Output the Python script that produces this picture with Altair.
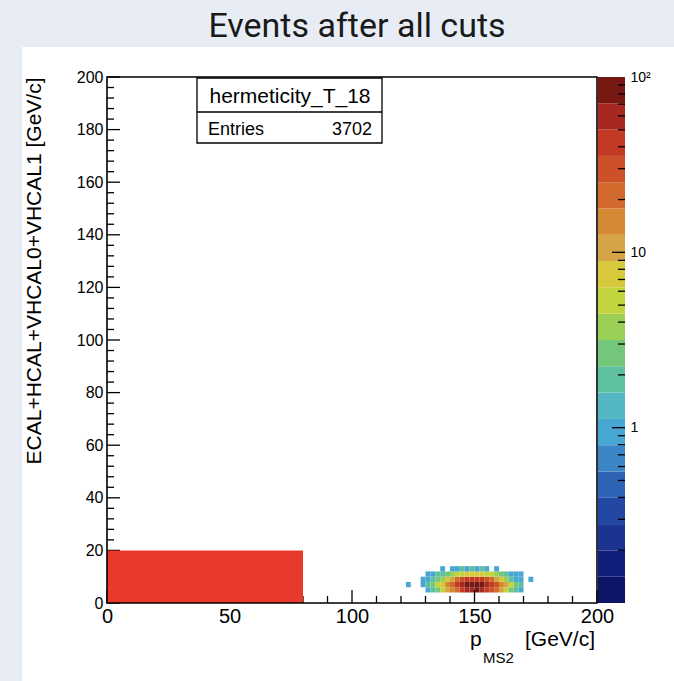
import math
import altair as alt
import pandas as pd

# ---------------- data ----------------
TITLE = "Events after all cuts"
Y_TITLE = "ECAL+HCAL+VHCAL0+VHCAL1 [GeV/c]"
X_TITLE_MAIN = "p"
X_TITLE_SUB = "MS2"
X_TITLE_UNIT = "[GeV/c]"
STATS_NAME = "hermeticity_T_18"
STATS_LABEL = "Entries"
STATS_ENTRIES = "3702"

x_ticks_major = [0, 50, 100, 150, 200]
x_ticks_minor = [10, 20, 30, 40, 60, 70, 80, 90, 110, 120, 130, 140, 160, 170, 180, 190]
y_ticks_major = [0, 20, 40, 60, 80, 100, 120, 140, 160, 180, 200]
y_ticks_minor = [4, 8, 12, 16, 24, 28, 32, 36, 44, 48, 52, 56, 64, 68, 72, 76,
                 84, 88, 92, 96, 104, 108, 112, 116, 124, 128, 132, 136,
                 144, 148, 152, 156, 164, 168, 172, 176, 184, 188, 192, 196]
cbar_major = [1, 10, 100]
cbar_minor = [0.2, 0.3, 0.4, 0.5, 0.6, 0.7, 0.8, 0.9,
              2, 3, 4, 5, 6, 7, 8, 9,
              20, 30, 40, 50, 60, 70, 80, 90]

# cut box (x range, y range)
box_x = [0, 80]
box_y = [0, 20]

# 2D histogram: bin width 2 GeV/c, x bin lower edges 122..174
BIN = 2
x_bin_lo = [122, 124, 126, 128, 130, 132, 134, 136, 138, 140, 142, 144, 146, 148,
            150, 152, 154, 156, 158, 160, 162, 164, 166, 168, 170, 172, 174]
row_y12 = [0, 0, 0, 0, 0, 0, 0, 1, 0, 1, 1, 2, 1, 2, 1, 2, 1, 0, 1, 0, 0, 0, 0, 0, 0, 0, 0]
row_y10 = [0, 0, 0, 0, 1, 1, 2, 2, 3, 4, 5, 6, 7, 8, 8, 7, 6, 5, 4, 3, 2, 1, 1, 1, 0, 0, 0]
row_y8 = [0, 0, 0, 1, 1, 2, 3, 4, 7, 12, 20, 30, 40, 48, 50, 45, 35, 22, 12, 7, 4, 2, 1, 1, 0, 1, 0]
row_y6 = [1, 0, 0, 1, 2, 3, 5, 8, 14, 22, 36, 55, 75, 90, 95, 85, 65, 45, 28, 16, 9, 5, 3, 2, 0, 0, 0]
row_y4 = [0, 0, 0, 0, 1, 2, 3, 5, 9, 15, 25, 40, 55, 70, 75, 65, 50, 32, 20, 11, 6, 3, 2, 1, 0, 0, 0]
rows = {4: row_y4, 6: row_y6, 8: row_y8, 10: row_y10, 12: row_y12}

# ROOT-like rainbow palette, 20 contours, bottom -> top
palette = ["#0c1566", "#111f7b", "#1a3490", "#2348a3", "#2d62b5", "#3b84c6",
           "#48a6d3", "#53b6c2", "#5ec09f", "#74c67a", "#9ccf56", "#c2d43e",
           "#d7c93b", "#d5a545", "#d48832", "#d16a2c", "#cc5028", "#c23a24",
           "#a62820", "#751912"]
LOG_MIN, LOG_MAX = -1.0, 2.0

BOX_COLOR = "#e8392b"
BG = "#e8edf5"
FONT = "Liberation Sans"

# ---------------- tables ----------------
hist_recs = []
for y0, row in rows.items():
    for xl, n in zip(x_bin_lo, row):
        if n > 0:
            hist_recs.append(dict(x0=xl, x1=xl + BIN, y0=y0, y1=y0 + BIN, n=n, lc=math.log10(n)))
hist_df = pd.DataFrame(hist_recs)

box_df = pd.DataFrame({"x0": [box_x[0]], "x1": [box_x[1]], "y0": [box_y[0]], "y1": [box_y[1]]})

nb = len(palette)
step = (LOG_MAX - LOG_MIN) / nb
cbar_df = pd.DataFrame({
    "lo": [10 ** (LOG_MIN + i * step) for i in range(nb)],
    "hi": [10 ** (LOG_MIN + (i + 1) * step) for i in range(nb)],
    "lc": [LOG_MIN + (i + 0.5) * step for i in range(nb)],
})
cmaj_df = pd.DataFrame({"v": cbar_major[:2]})
cmin_df = pd.DataFrame({"v": cbar_minor})
one = pd.DataFrame({"k": [0]})

W, H = 490, 526
MAJ, MIN = 13, 7

xs = alt.Scale(domain=[0, 200], nice=False, zero=False)
ys = alt.Scale(domain=[0, 200], nice=False, zero=False)
cs = alt.Scale(type="quantize", domain=[LOG_MIN, LOG_MAX], range=palette, nice=False, zero=False)
logs = alt.Scale(type="log", domain=[0.1, 100], nice=False)

ax_x_lab = alt.Axis(orient="bottom", values=x_ticks_major, ticks=False, domain=False,
                    grid=False, labelFont=FONT, labelFontSize=20, labelColor="black",
                    labelPadding=3, labelFlush=False, labelOverlap=False, format="d",
                    title="")
ax_y_lab = alt.Axis(orient="left", values=y_ticks_major, ticks=False, domain=False,
                    grid=False, labelFont=FONT, labelFontSize=16, labelColor="black",
                    labelPadding=4, labelFlush=False, labelOverlap=False, format="d",
                    title=Y_TITLE, titleFont=FONT, titleFontSize=21,
                    titleFontWeight="normal", titleColor="black",
                    titleAnchor="end", titlePadding=32)
ax_cbar = alt.Axis(orient="right", values=cbar_major, offset=28, ticks=False,
                   domain=False, grid=False, labelFont=FONT, labelFontSize=14,
                   labelColor="black", labelPadding=5, labelFlush=False,
                   labelOverlap=False, format="~g",
                   labelExpr="datum.value >= 100 ? '10²' : datum.label",
                   title="")

# ---------------- layers ----------------
bg_top = alt.Chart(one).mark_rect(fill=BG).encode(
    x=alt.value(-107), x2=alt.value(567), y=alt.value(-77), y2=alt.value(-30))
bg_left = alt.Chart(one).mark_rect(fill=BG).encode(
    x=alt.value(-107), x2=alt.value(-85), y=alt.value(-30), y2=alt.value(604))

title = alt.Chart(pd.DataFrame({"t": [TITLE]})).mark_text(
    font="Roboto", fontSize=34, color="#1a1a1a", align="center", baseline="alphabetic"
).encode(x=alt.value(250), y=alt.value(-40), text="t:N")

heat = alt.Chart(hist_df).mark_rect().encode(
    x=alt.X("x0:Q", scale=xs, axis=None),
    x2="x1:Q",
    y=alt.Y("y0:Q", scale=ys, axis=None),
    y2="y1:Q",
    color=alt.Color("lc:Q", scale=cs, legend=None),
)

tick_style = dict(color="black", strokeWidth=1.3)
xmaj = alt.Chart(pd.DataFrame({"v": x_ticks_major})).mark_rule(**tick_style).encode(
    x=alt.X("v:Q", scale=xs, axis=ax_x_lab), y=alt.value(H - MAJ), y2=alt.value(H))
xmin = alt.Chart(pd.DataFrame({"v": x_ticks_minor})).mark_rule(**tick_style).encode(
    x=alt.X("v:Q", scale=xs, axis=None), y=alt.value(H - MIN), y2=alt.value(H))
ymaj = alt.Chart(pd.DataFrame({"v": y_ticks_major})).mark_rule(**tick_style).encode(
    y=alt.Y("v:Q", scale=ys, axis=ax_y_lab), x=alt.value(0), x2=alt.value(MAJ))
ymin = alt.Chart(pd.DataFrame({"v": y_ticks_minor})).mark_rule(**tick_style).encode(
    y=alt.Y("v:Q", scale=ys, axis=None), x=alt.value(0), x2=alt.value(MIN))

cutbox = alt.Chart(box_df).mark_rect(color=BOX_COLOR).encode(
    x=alt.X("x0:Q", scale=xs, axis=None),
    x2="x1:Q",
    y=alt.Y("y0:Q", scale=ys, axis=None),
    y2="y1:Q",
)

frame = alt.Chart(one).mark_rect(fill="transparent", stroke="black", strokeWidth=1.6).encode(
    x=alt.value(0), x2=alt.value(W), y=alt.value(0), y2=alt.value(H))

stats_rect = alt.Chart(one).mark_rect(fill="white", stroke="black", strokeWidth=1.3).encode(
    x=alt.value(90), x2=alt.value(275), y=alt.value(1), y2=alt.value(66))
stats_sep = alt.Chart(one).mark_rule(color="black", strokeWidth=1.3).encode(
    x=alt.value(90), x2=alt.value(275), y=alt.value(35))
stats_name = alt.Chart(pd.DataFrame({"t": [STATS_NAME]})).mark_text(
    font=FONT, fontSize=21, color="black", align="center", baseline="alphabetic"
).encode(x=alt.value(183), y=alt.value(26), text="t:N")
stats_lab = alt.Chart(pd.DataFrame({"t": [STATS_LABEL]})).mark_text(
    font=FONT, fontSize=18, color="black", align="left", baseline="alphabetic"
).encode(x=alt.value(101), y=alt.value(58), text="t:N")
stats_val = alt.Chart(pd.DataFrame({"t": [STATS_ENTRIES]})).mark_text(
    font=FONT, fontSize=18, color="black", align="right", baseline="alphabetic"
).encode(x=alt.value(265), y=alt.value(58), text="t:N")

cbar = alt.Chart(cbar_df).mark_rect().encode(
    x=alt.value(W + 1), x2=alt.value(W + 28),
    y=alt.Y("lo:Q", scale=logs, axis=ax_cbar),
    y2="hi:Q",
    color=alt.Color("lc:Q", scale=cs, legend=None),
)
cbar_maj = alt.Chart(cmaj_df).mark_rule(**tick_style).encode(
    x=alt.value(W + 15), x2=alt.value(W + 28), y=alt.Y("v:Q", scale=logs, axis=None))
cbar_min = alt.Chart(cmin_df).mark_rule(**tick_style).encode(
    x=alt.value(W + 21), x2=alt.value(W + 28), y=alt.Y("v:Q", scale=logs, axis=None))

xt_main = alt.Chart(pd.DataFrame({"t": [X_TITLE_MAIN]})).mark_text(
    font=FONT, fontSize=21, color="black", align="left", baseline="alphabetic"
).encode(x=alt.value(363), y=alt.value(569), text="t:N")
xt_sub = alt.Chart(pd.DataFrame({"t": [X_TITLE_SUB]})).mark_text(
    font=FONT, fontSize=15, color="black", align="left", baseline="alphabetic"
).encode(x=alt.value(376), y=alt.value(586), text="t:N")
xt_unit = alt.Chart(pd.DataFrame({"t": [X_TITLE_UNIT]})).mark_text(
    font=FONT, fontSize=21, color="black", align="right", baseline="alphabetic"
).encode(x=alt.value(488), y=alt.value(569), text="t:N")

chart = alt.layer(
    bg_top, bg_left, title,
    heat, xmaj, xmin, ymaj, ymin, cutbox, frame,
    stats_rect, stats_sep, stats_name, stats_lab, stats_val,
    cbar, cbar_maj, cbar_min,
    xt_main, xt_sub, xt_unit,
).resolve_scale(
    x="independent", y="independent", color="shared"
).resolve_axis(
    x="independent", y="independent"
).properties(
    width=W, height=H, background="white",
    autosize=alt.AutoSizeParams(type="none"),
    padding={"left": 107, "top": 77, "right": 77, "bottom": 78},
).configure_view(stroke="transparent")

chart.save("out.html", embed_options={"renderer": "svg", "actions": False})
